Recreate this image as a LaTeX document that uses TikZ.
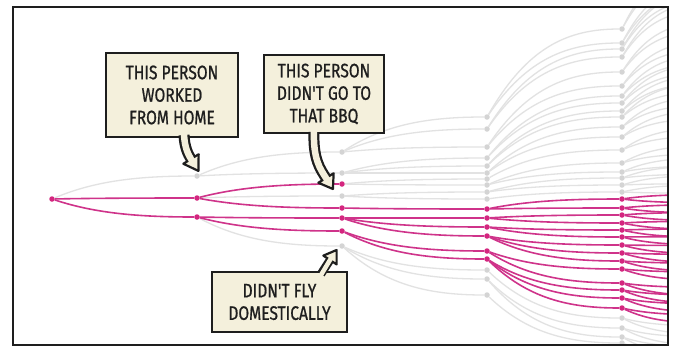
\documentclass[tikz,border=0pt]{standalone}
\usepackage{fontspec}
\newfontfamily\handfont[FakeStretch=0.8,FakeBold=0.9]{Fira Sans}
\usetikzlibrary{calc}
\definecolor{magc}{HTML}{D4267F}
\definecolor{magl}{HTML}{CF338A}
\definecolor{grayc}{HTML}{D4D4D4}
\definecolor{grayl}{HTML}{E2E2E2}
\definecolor{cream}{HTML}{F4F0DC}
\definecolor{ink}{HTML}{1E1E1E}
\newcommand\mdot[3]{\node[mdotst] (#1) at (#2,#3) {};}
\newcommand\gdot[3]{\node[gdotst] (#1) at (#2,#3) {};}
\newcommand\edg[3]{\draw[#3] let \p1=(#1.center),\p2=(#2) in (#1) .. controls ({\x1+0.3*(\x2-\x1)},{\y1+0.8*(\y2-\y1)}) and ({\x1+0.6*(\x2-\x1)},\y2) .. (#2);}
\newcommand\fan[3]{%
 \pgfmathsetmacro\fsp{(#2<200) ? 0.35 : 0.1}%
 \pgfmathsetmacro\fya{#2+(#2-200)*\fsp-4}%
 \pgfmathsetmacro\fyb{#2+(#2-200)*\fsp+4}%
 \coordinate (#1-u) at (705,\fya); \coordinate (#1-v) at (705,\fyb);
 \edg{#1}{#1-u}{#3}\edg{#1}{#1-v}{#3}}
\begin{document}
\begin{tikzpicture}[x=1pt,y=-1pt,
  mdotst/.style={circle,fill=magc,inner sep=0pt,minimum size=5.5pt},
  gdotst/.style={circle,fill=grayc,inner sep=0pt,minimum size=5.5pt},
  grayline/.style={draw=grayl,line width=1.3pt},
  magline/.style={draw=magl,line width=1.6pt},
  callout/.style={draw=ink,line width=2.4pt,fill=cream,align=center,inner sep=0pt,
    font=\handfont\fontsize{19.5}{22.5}\selectfont,text=ink},
  arrowout/.style={draw=ink,line width=11pt},
  arrowin/.style={draw=cream,line width=6.5pt},
  arrowhd/.style={draw=ink,fill=cream,line width=2.2pt,line join=round}]
\useasboundingbox (0,0) rectangle (676,354);
\fill[white] (0,0) rectangle (676,354);
\begin{scope}
\clip (14,8) rectangle (667,344);
% level 0,1,2
\mdot{r}{52}{199}
\gdot{a1}{197}{176} \mdot{a2}{197}{198} \mdot{a3}{197}{217}
\gdot{b1}{342}{152} \gdot{b2}{342}{173} \mdot{b3}{342}{184} \gdot{b4}{342}{196}
\mdot{b5}{342}{208} \mdot{b6}{342}{218} \mdot{b7}{342}{231} \gdot{b8}{342}{246}
% level 3
\foreach \k/\yy in {1/117,2/129,3/147,4/158,5/166,6/173,7/179,8/185,9/192,10/199,17/270,18/279,19/295}
  {\gdot{c\k}{487}{\yy}}
\foreach \k/\yy in {11/209,12/218,13/227,14/236,15/251,16/259}
  {\mdot{c\k}{487}{\yy}}
% level 4
\foreach \k/\yy in {1/29,2/43,3/49,4/57,5/72,6/86,7/96,8/103,9/111,10/117,11/127,12/137,13/150,14/163,15/172,16/178,17/185,18/192,33/318,34/328,35/337,36/343}
  {\gdot{d\k}{622}{\yy}}
\foreach \k/\yy in {19/199,20/208,21/215,22/223,23/230,24/237,25/245,26/253,27/261,28/269,29/283,30/290,31/298,32/308}
  {\mdot{d\k}{622}{\yy}}
% gray edges
\foreach \pa/\ch in {r/a1,a2/b4,a1/b1,a1/b2,a3/b8,
  b1/c1,b1/c2,b1/c3,b2/c4,b2/c5,b2/c6,b3/c7,b3/c8,b4/c9,b4/c10,b8/c17,b8/c18,b8/c19,
  c1/d1,c1/d2,c2/d3,c2/d4,c3/d5,c3/d6,c4/d7,c4/d8,c5/d9,c5/d10,c6/d11,c6/d12,c7/d13,
  c8/d14,c8/d15,c9/d16,c9/d17,c10/d18,c17/d33,c18/d34,c18/d35,c19/d36}
  {\edg{\pa}{\ch}{grayline}}
\foreach \k/\yy in {1/29,2/43,3/49,4/57,5/72,6/86,7/96,8/103,9/111,10/117,11/127,12/137,13/150,14/163,15/172,16/178,17/185,18/192,33/318,34/328,35/337,36/343}
  {\fan{d\k}{\yy}{grayline}}
% magenta edges
\foreach \pa/\ch in {r/a2,r/a3,a2/b3,a2/b5,a3/b6,a3/b7,b5/c11,b6/c12,b6/c13,b6/c14,b7/c15,b7/c16,
  c11/d19,c11/d20,c12/d21,c12/d22,c13/d23,c13/d24,c14/d25,c14/d26,c14/d27,
  c15/d28,c15/d29,c16/d30,c16/d31,c16/d32}
  {\edg{\pa}{\ch}{magline}}
\foreach \k/\yy in {19/199,20/208,21/215,22/223,23/230,24/237,25/245,26/253,27/261,28/269,29/283,30/290,31/298,32/308}
  {\fan{d\k}{\yy}{magline}}
\end{scope}
% frame
\draw[ink,line width=2pt] (13,7) rectangle (668,345);
% callouts
\node[callout,minimum width=132pt,minimum height=84pt] (box1) at (172,95)
  {THIS PERSON\\WORKED\\FROM HOME};
\node[callout,minimum width=120pt,minimum height=78pt] (box2) at (324,94)
  {THIS PERSON\\DIDN'T GO TO\\THAT BBQ};
\node[callout,minimum width=135pt,minimum height=60pt] (box3) at (279.5,302)
  {DIDN'T FLY\\DOMESTICALLY};
% arrow 1
\draw[arrowout] (184,135) .. controls (184.5,147) and (188,154.2) .. (191,159);
\draw[arrowhd] (198.65,154.23) -- (198.4,170.9) -- (183.35,163.77) -- cycle;
\draw[arrowin] (184,134) .. controls (184.5,147) and (188,154.2) .. (191,159) -- (192.2,160.9);
% arrow 2
\draw[arrowout] (314,132) .. controls (313,160) and (320.7,169.5) .. (326,178);
\draw[arrowhd] (333.65,173.23) -- (332.9,189) -- (318.35,182.77) -- cycle;
\draw[arrowin] (314,131) .. controls (313,160) and (320.7,169.5) .. (326,178) -- (327.2,179.9);
% arrow 3
\draw[arrowout,line width=8.5pt] (321,274) -- (330,260);
\draw[arrowhd] (336.64,264.4) -- (336.6,250) -- (323.36,255.6) -- cycle;
\draw[arrowin,line width=4.5pt] (321,275) -- (330,260) -- (331.1,258.3);
\end{tikzpicture}
\end{document}
